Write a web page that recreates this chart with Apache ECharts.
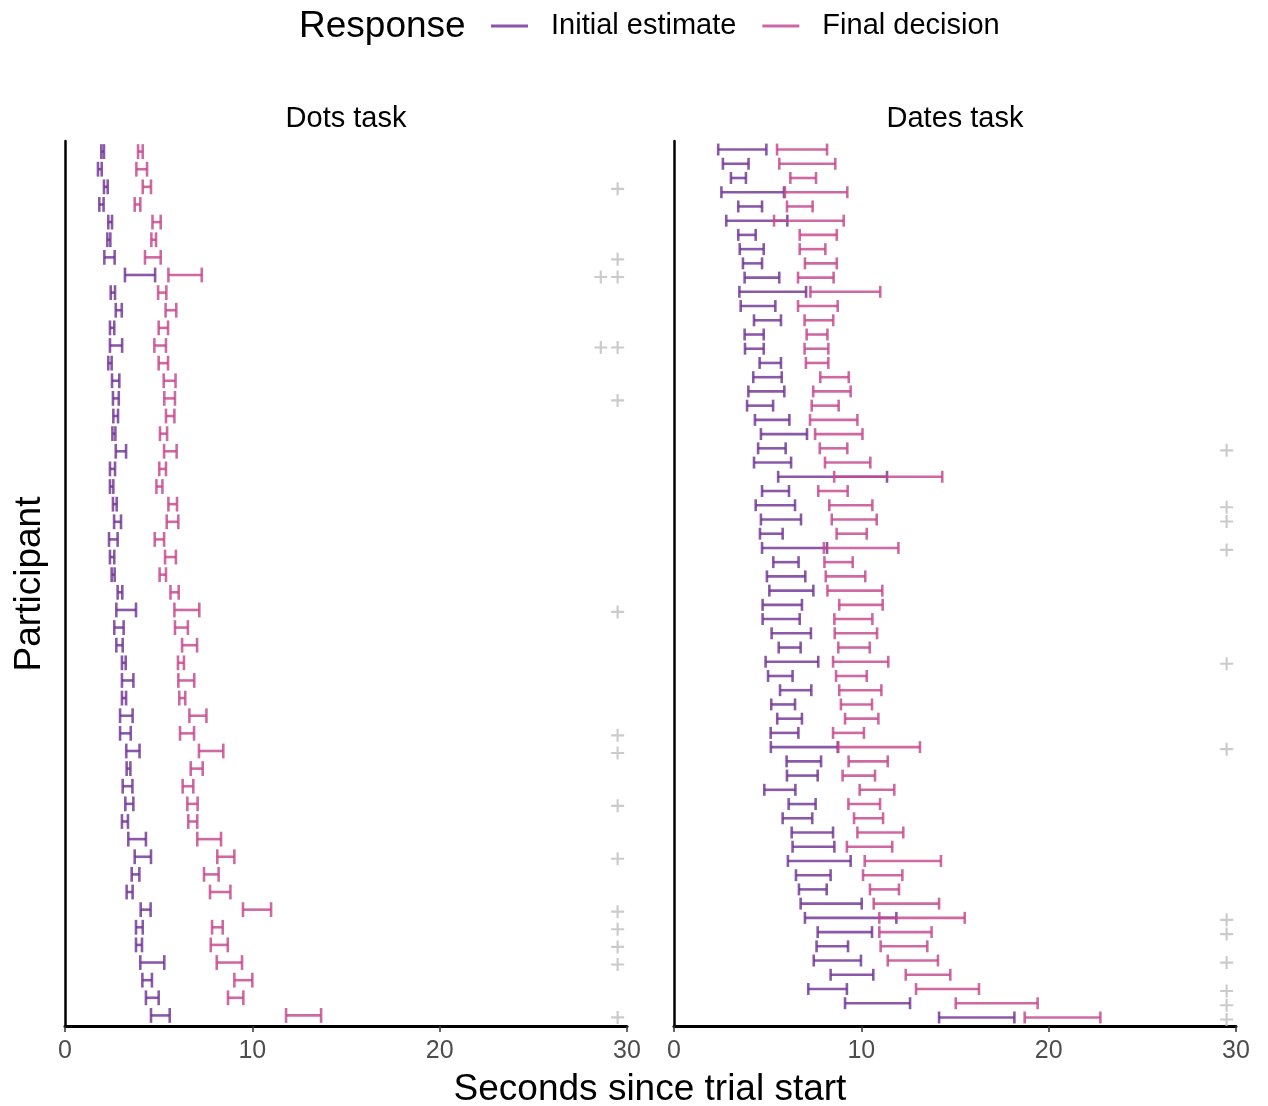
<!DOCTYPE html>
<html>
<head>
<meta charset="utf-8">
<script src="https://cdn.jsdelivr.net/npm/echarts@6/dist/echarts.min.js"></script>
<style>
html,body{margin:0;padding:0;background:#fff;}
#chart{width:1268px;height:1106px;}
</style>
</head>
<body>
<div id="chart"></div>
<script>
// ---- Data (seconds since trial start), row 0 = top participant ----
const dotsInitLo = [1.94,1.76,2.08,1.83,2.31,2.26,2.10,3.20,2.44,2.71,2.40,2.40,2.31,2.51,2.56,2.58,2.53,2.71,2.40,2.40,2.56,2.62,2.35,2.40,2.49,2.81,2.74,2.63,2.74,3.04,3.04,3.04,2.94,2.94,3.27,3.29,3.08,3.22,3.04,3.38,3.72,3.56,3.29,4.04,3.79,3.79,4.02,4.13,4.32,4.59];
const dotsInitHi = [2.08,1.96,2.28,2.06,2.51,2.42,2.65,4.81,2.67,3.03,2.63,3.05,2.49,2.90,2.87,2.83,2.69,3.26,2.67,2.58,2.76,2.99,2.81,2.63,2.65,3.06,3.79,3.13,3.08,3.24,3.65,3.26,3.61,3.51,3.98,3.49,3.60,3.65,3.36,4.32,4.59,3.97,3.61,4.57,4.15,4.11,5.30,4.64,5.00,5.59];
const dotsFinalLo = [3.90,3.81,4.15,3.72,4.67,4.61,4.27,5.52,4.97,5.37,5.00,4.77,5.00,5.27,5.30,5.39,5.07,5.29,5.03,4.88,5.52,5.43,4.79,5.34,5.05,5.63,5.84,5.87,6.25,6.03,6.05,6.10,6.64,6.14,7.15,6.71,6.28,6.53,6.58,7.06,8.13,7.42,7.74,9.50,7.85,7.78,8.10,9.04,8.70,11.80];
const dotsFinalHi = [4.15,4.38,4.59,4.02,5.11,4.86,5.11,7.30,5.41,5.94,5.50,5.39,5.50,5.90,5.87,5.84,5.45,5.96,5.39,5.20,5.98,6.05,5.29,5.92,5.39,6.07,7.17,6.56,7.05,6.35,6.90,6.42,7.55,6.89,8.45,7.35,6.85,7.08,7.06,8.33,9.04,8.20,8.83,11.00,8.42,8.69,9.45,10.00,9.52,13.67];
const dotsPlusRow = [2,6,7,7,11,11,14,26,33,34,37,40,43,44,45,46,49];
const dotsPlusX   = [29.5,29.5,28.6,29.5,28.6,29.5,29.5,29.5,29.5,29.5,29.5,29.5,29.5,29.5,29.5,29.5,29.5];

const datesInitLo = [2.36,2.61,3.04,2.53,3.43,2.79,3.43,3.51,3.68,3.77,3.49,3.56,4.27,3.77,3.79,4.57,4.23,3.97,3.90,4.32,4.64,4.49,4.27,5.56,4.70,4.36,4.64,4.59,4.70,5.30,4.96,5.09,4.73,4.73,5.21,5.59,4.89,5.02,5.66,5.19,5.51,5.16,5.17,6.01,6.03,4.82,6.12,5.80,6.28,6.33,6.08,6.51,6.67,6.76,6.99,7.67,7.61,7.46,8.36,7.17,9.13,14.15];
const datesInitHi = [4.93,3.98,3.84,5.87,4.70,6.05,4.36,4.79,4.70,5.62,7.05,5.41,5.71,4.79,4.79,5.71,5.75,5.89,5.29,6.16,7.10,5.96,6.25,11.37,6.14,6.46,6.78,5.80,8.17,6.65,7.01,7.44,6.83,6.71,7.31,6.76,7.70,6.33,7.33,6.46,6.83,6.64,8.74,7.85,7.67,6.48,7.56,7.38,8.49,8.56,9.43,8.36,8.15,10.02,11.87,10.57,9.29,9.98,10.64,9.23,12.60,18.17];
const datesFinalLo = [5.50,5.62,6.21,5.92,6.03,5.34,6.71,6.71,6.99,6.62,7.28,6.62,6.97,7.08,6.97,7.04,7.81,7.43,7.35,7.26,7.53,7.78,8.06,8.55,7.70,8.29,8.42,8.68,8.00,8.03,8.10,8.19,8.82,8.56,8.58,8.77,8.49,8.65,8.82,8.91,9.13,8.49,8.77,9.32,9.00,9.91,9.31,9.61,9.79,9.23,10.18,10.09,10.46,10.66,10.96,10.96,11.03,11.41,12.37,12.92,15.04,18.72];
const datesFinalHi = [8.17,8.61,7.58,9.25,7.40,9.06,8.69,8.08,8.69,8.52,11.01,8.74,8.50,8.19,8.24,8.24,9.33,9.43,8.79,9.79,10.06,9.25,10.48,14.32,9.27,10.59,10.82,10.29,11.98,9.54,10.21,11.12,11.14,10.59,10.84,10.45,11.44,10.29,11.07,10.57,10.91,10.14,13.13,11.41,10.73,11.76,11.00,11.16,12.24,11.65,14.25,12.19,12.01,14.15,15.52,13.75,13.52,14.09,14.75,16.28,19.41,22.76];
const datesPlusRow = [21,25,26,28,36,42,54,55,57,59,60,61];
const datesPlusX   = [29.5,29.5,29.5,29.5,29.5,29.5,29.5,29.5,29.5,29.5,29.5,29.5];

const xTicks = [0,10,20,30];
const panelTitles = ['Dots task','Dates task'];
const seriesNames = ['Initial estimate','Final decision'];

// ---- Styles ----
const PURPLE = 'rgba(112,52,148,0.82)';
const PINK = 'rgba(196,72,142,0.82)';
const PURPLE_KEY = '#8a55ad';
const PINK_KEY = '#cd69a2';
const FONT = 'Liberation Sans, Arial, Helvetica, sans-serif';

function rows(lo, hi){ return lo.map((v,i)=>[v, hi[i], i]); }

function renderBar(color){
  return function(params, api){
    const lo = api.value(0), hi = api.value(1), r = api.value(2);
    const p1 = api.coord([lo, r]), p2 = api.coord([hi, r]);
    const h = Math.abs(api.size([0, 0.42])[1]);
    const st = {stroke: color, lineWidth: 2.6, fill: null};
    return {type:'group', children:[
      {type:'line', shape:{x1:p1[0], y1:p1[1], x2:p2[0], y2:p2[1]}, style:st},
      {type:'line', shape:{x1:p1[0], y1:p1[1]-h, x2:p1[0], y2:p1[1]+h}, style:st},
      {type:'line', shape:{x1:p2[0], y1:p2[1]-h, x2:p2[0], y2:p2[1]+h}, style:st}
    ]};
  };
}

const PLUS = 'path://M5,0H7V5H12V7H7V12H5V7H0V5H5Z';

const panels = [
  {init: rows(dotsInitLo, dotsInitHi), fin: rows(dotsFinalLo, dotsFinalHi), n: dotsInitLo.length,
   plus: dotsPlusRow.map((r,i)=>[dotsPlusX[i], r])},
  {init: rows(datesInitLo, datesInitHi), fin: rows(datesFinalLo, datesFinalHi), n: datesInitLo.length,
   plus: datesPlusRow.map((r,i)=>[datesPlusX[i], r])}
];

const gridLefts = [65, 674];
const grids = gridLefts.map(l=>({left:l, top:141, width:562, height:885, containLabel:false}));

const xAxes = panels.map((p,i)=>({
  type:'value', gridIndex:i, min:xTicks[0], max:xTicks[xTicks.length-1], interval:10,
  axisLine:{show:true, onZero:false, lineStyle:{color:'#000', width:3}},
  axisTick:{show:true, length:6, lineStyle:{color:'#333', width:1.5}},
  axisLabel:{color:'#4d4d4d', fontSize:25, fontFamily:FONT, margin:13, showMinLabel:true, showMaxLabel:true},
  splitLine:{show:false}
}));
const yAxes = panels.map((p,i)=>({
  type:'value', gridIndex:i, inverse:true, min:-0.6, max:p.n-1+0.6,
  axisLine:{show:true, onZero:false, lineStyle:{color:'#000', width:2.5}},
  axisTick:{show:false}, axisLabel:{show:false}, splitLine:{show:false}
}));

const series = [];
panels.forEach((p,i)=>{
  series.push({name:seriesNames[0], type:'custom', xAxisIndex:i, yAxisIndex:i, data:p.init,
    renderItem:renderBar(PURPLE), itemStyle:{color:PURPLE_KEY}, encode:{x:[0,1], y:2}, clip:false, z:2});
  series.push({name:seriesNames[1], type:'custom', xAxisIndex:i, yAxisIndex:i, data:p.fin,
    renderItem:renderBar(PINK), itemStyle:{color:PINK_KEY}, encode:{x:[0,1], y:2}, clip:false, z:3});
  series.push({name:'trial', type:'scatter', xAxisIndex:i, yAxisIndex:i, data:p.plus,
    symbol:PLUS, symbolSize:13, symbolOffset:[0,2], itemStyle:{color:'#bebebe'}, silent:true, z:1});
});

const chart = echarts.init(document.getElementById('chart'), null, {renderer:'canvas'});
chart.setOption({
  backgroundColor:'#fff',
  animation:false,
  grid: grids,
  xAxis: xAxes,
  yAxis: yAxes,
  legend:{
    left:486, top:4, itemWidth:37, itemHeight:3, itemGap:26,
    data:[{name:seriesNames[0], icon:'rect', itemStyle:{color:PURPLE_KEY}},
          {name:seriesNames[1], icon:'rect', itemStyle:{color:PINK_KEY}}],
    textStyle:{fontSize:29, fontFamily:FONT, color:'#000', padding:[0,0,0,18], lineHeight:34},
    selectedMode:false
  },
  graphic:[
    {type:'text', left:299, top:8, style:{text:'Response', fontSize:37, fontFamily:FONT, fill:'#000'}},
    {type:'text', x:346, y:119, style:{text:panelTitles[0], fontSize:29, fontFamily:FONT, fill:'#000', align:'center', verticalAlign:'middle'}},
    {type:'text', x:955, y:119, style:{text:panelTitles[1], fontSize:29, fontFamily:FONT, fill:'#000', align:'center', verticalAlign:'middle'}},
    {type:'text', x:650, y:1090, style:{text:'Seconds since trial start', fontSize:37, fontFamily:FONT, fill:'#000', align:'center', verticalAlign:'middle'}},
    {type:'text', x:30, y:584, rotation:Math.PI/2, style:{text:'Participant', fontSize:37, fontFamily:FONT, fill:'#000', align:'center', verticalAlign:'middle'}}
  ],
  series: series
});
</script>
</body>
</html>
